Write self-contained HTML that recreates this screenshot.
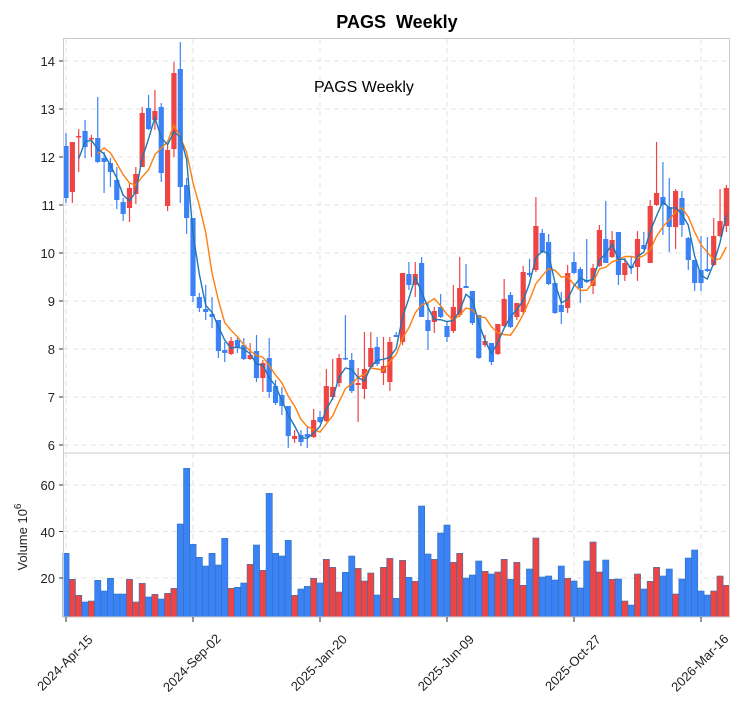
<!DOCTYPE html>
<html><head><meta charset="utf-8"><style>
body{margin:0;background:#fff;}
svg{display:block;font-family:"Liberation Sans","DejaVu Sans",sans-serif;}
</style></head><body>
<svg id="s" width="750" height="712" viewBox="0 0 750 712" xmlns="http://www.w3.org/2000/svg">
<rect width="750" height="712" fill="#fff"/>
<text x="397" y="28" text-anchor="middle" font-size="18" font-weight="bold" fill="#000">PAGS&#160;&#160;Weekly</text>
<g id="grid" stroke="#e3e3e3" stroke-dasharray="5,4" stroke-width="1"></g>
<g id="vol"></g>
<g id="cdl"></g>
<g id="ma"></g>
<rect x="63.5" y="38.5" width="666" height="414.5" fill="none" stroke="#ccc"/>
<rect x="63.5" y="453" width="666" height="164" fill="none" stroke="#ccc"/>
<text x="364" y="92" text-anchor="middle" font-size="16" fill="#000">PAGS Weekly</text>
<g font-size="13" fill="#222" text-anchor="end">
<text x="55" y="66">14</text><text x="55" y="114">13</text><text x="55" y="162">12</text>
<text x="55" y="210">11</text><text x="55" y="258">10</text><text x="55" y="306">9</text>
<text x="55" y="354">8</text><text x="55" y="402">7</text><text x="55" y="450">6</text>
<text x="55" y="490">60</text><text x="55" y="537">40</text><text x="55" y="583">20</text>
</g>
<text transform="translate(27,537) rotate(-90)" text-anchor="middle" font-size="13" fill="#222">Volume  10<tspan dy="-6" font-size="10">6</tspan></text>
<g font-size="13" fill="#222" text-anchor="middle" id="xl"></g>
<g stroke="#333" stroke-width="1" id="ticks"></g>
</svg>
<script>
var C=[[146,198,133,203,'b'],[142,192,142,203,'r'],[136,137,129,172,'r'],[131,147,120,158,'b'],[138,139,135,157,'r'],[138,162,97,163,'b'],[158,162,152,193,'b'],[163,172,158,187,'b'],[180,200,167,209,'b'],[202,214,198,221,'b'],
[188,208,183,222,'r'],[174,194,167,204,'r'],[113,167,107,167,'r'],[108,129,95,130,'b'],[111,120,90,130,'r'],[107,173,103,182,'b'],[150,206,145,211,'r'],[73,149,62,157,'r'],[69,187,42,203,'b'],[185,218,178,234,'b'],
[218,296,218,302,'b'],[297,308,293,312,'b'],[309,312,285,320,'b'],[314,317,297,328,'b'],[320,351,320,358,'b'],[350,353,342,362,'b'],[341,354,337,355,'r'],[340,347,337,353,'b'],[345,359,338,360,'b'],[355,359,343,360,'r'],
[351,378,335,382,'b'],[363,378,360,392,'r'],[358,392,338,398,'b'],[386,403,380,405,'b'],[395,406,387,415,'b'],[406,436,406,448,'b'],[436,439,430,443,'r'],[435,442,430,446,'b'],[434,437,427,448,'b'],[420,437,409,438,'r'],
[417,422,411,423,'b'],[386,421,369,422,'r'],[387,397,359,400,'r'],[358,383,354,387,'r'],[358,359,315,360,'b'],[360,391,353,393,'b'],[383,385,368,422,'r'],[369,389,332,399,'r'],[348,367,332,369,'r'],[347,364,337,366,'b'],
[366,373,337,385,'r'],[342,382,337,391,'r'],[335,337,332,337,'b'],[273,342,273,345,'r'],[274,285,262,290,'b'],[274,285,262,297,'r'],[263,317,257,317,'b'],[320,331,303,350,'b'],[311,322,307,333,'r'],[307,317,294,318,'b'],
[326,337,322,342,'b'],[307,331,285,333,'r'],[288,315,257,317,'r'],[286,288,264,288,'b'],[291,323,291,325,'b'],[315,358,315,359,'b'],[341,345,335,347,'r'],[343,362,343,365,'b'],[324,354,324,355,'r'],[299,326,279,327,'r'],
[295,327,292,328,'b'],[303,317,303,320,'r'],[272,312,266,315,'r'],[273,275,259,277,'b'],[226,270,197,272,'r'],[233,252,229,253,'b'],[242,284,234,285,'b'],[283,313,283,314,'b'],[305,312,292,324,'b'],[273,308,265,313,'r'],
[262,273,252,274,'b'],[269,288,267,303,'b'],[280,282,239,283,'b'],[268,286,264,294,'r'],[230,266,225,267,'r'],[239,263,201,263,'b'],[240,257,231,258,'r'],[232,275,232,285,'b'],[263,275,258,281,'r'],[266,268,257,274,'b'],
[239,267,231,281,'r'],[245,249,232,250,'b'],[206,263,200,263,'r'],[193,205,142,206,'r'],[197,205,162,235,'b'],[207,227,178,252,'b'],[191,227,189,249,'r'],[198,225,191,237,'b'],[238,260,237,270,'b'],[260,283,260,291,'b'],
[270,283,236,291,'b'],[269,271,237,272,'b'],[236,265,218,266,'r'],[221,236,189,237,'r'],[188,226,185,232,'r']];
var V=[295,373,421,441,438,376,408,370,417,417,373,441,385,426,418,432,415,400,207,40,268,307,333,295,330,250,400,397,384,328,270,346,115,295,303,256,421,402,394,370,384,313,337,411,352,303,340,378,354,420,337,310,430,
316,367,379,153,297,313,234,210,322,295,369,360,318,349,357,351,313,373,322,391,342,249,366,363,375,333,370,378,399,318,261,351,315,373,372,438,450,357,402,379,337,363,342,417,372,309,285,408,420,408,363,391];
var NS='http://www.w3.org/2000/svg';
function el(p,t,a){var e=document.createElementNS(NS,t);for(var k in a)e.setAttribute(k,a[k]);p.appendChild(e);return e;}
var g=document.getElementById('grid');
[61,109,157,205,253,301,349,397,445,485,531.5,578].forEach(function(y){el(g,'line',{x1:64,x2:729,y1:y,y2:y});});
var X0=66,DX=6.35;
for(var k=0;k<6;k++){var x=X0+127*k;el(g,'line',{x1:x,x2:x,y1:39,y2:617});}
var RB='#3b82f6',RR='#ef4444';
var vg=document.getElementById('vol');
for(var i=0;i<V.length;i++){var x=X0+DX*i,t=455+V[i]/3,c=C[i][4]=='r';
el(vg,'rect',{x:x-3.1,y:t,width:6.2,height:617-t,fill:c?RR:RB,stroke:'#2f74b5','stroke-width':0.6});}
var cg=document.getElementById('cdl');
var cl=[];
for(var i=0;i<C.length;i++){var d=C[i],x=X0+DX*i,col=d[4]=='r'?RR:RB;
el(cg,'line',{x1:x,x2:x,y1:d[2],y2:d[3],stroke:col,'stroke-width':1.2});
el(cg,'rect',{x:x-2.6,y:d[0],width:5.2,height:Math.max(1.5,d[1]-d[0]),fill:col});
cl.push(d[4]=='r'?d[0]:d[1]);}
function ma(n,col){var p='';for(var i=n-1;i<cl.length;i++){var s=0;for(var j=i-n+1;j<=i;j++)s+=cl[j];p+=(p?'L':'M')+(X0+DX*i).toFixed(1)+','+(s/n).toFixed(1);}
el(document.getElementById('ma'),'path',{d:p,fill:'none',stroke:col,'stroke-width':1.4});}
ma(6,'#ff7f0e');ma(3,'#1f77b4');
var lab=['2024-Apr-15','2024-Sep-02','2025-Jan-20','2025-Jun-09','2025-Oct-27','2026-Mar-16'];
var xl=document.getElementById('xl'),tk=document.getElementById('ticks');
for(var k=0;k<6;k++){var x=X0+127*k;el(tk,'line',{x1:x,x2:x,y1:617,y2:622});
var t=el(xl,'text',{transform:'translate('+(x+2)+',666) rotate(-45)'});t.textContent=lab[k];}
var ly=[61,109,157,205,253,301,349,397,445,485,531.5,578];
ly.forEach(function(y){el(tk,'line',{x1:59,x2:63,y1:y,y2:y});});
</script>
</body></html>
